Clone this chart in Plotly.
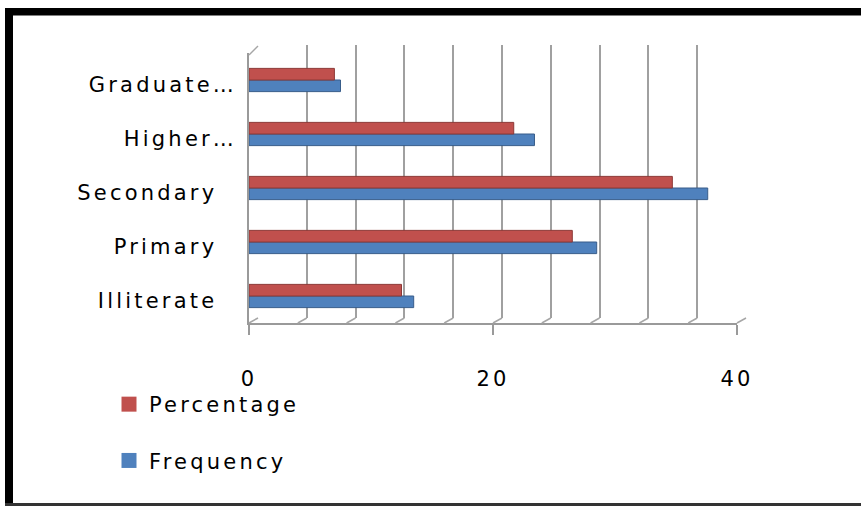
import plotly.graph_objects as go

# ---------------- data ----------------
categories = ["Illiterate", "Primary", "Secondary", "Higher…", "Graduate…"]
tick_labels = ["Illiterate\u00a0\u00a0", "Primary\u00a0\u00a0", "Secondary\u00a0\u00a0", "Higher…", "Graduate…"]
percentage = [12.5, 26.5, 34.7, 21.7, 7.0]
frequency = [13.5, 28.5, 37.6, 23.4, 7.5]
x_tick_vals = [0, 20, 40]
grid_step = 4
x_max = 40

RED = "#C0504D"
BLUE = "#4F81BD"
FONT = "DejaVu Sans"

# ---------------- geometry helpers (pixels -> paper) ----------------
FW, FH = 861, 506
L, R, T, B = 249, 750, 45, 324
PW, PH = R - L, B - T


def px(x):
    return (x - L) / PW


def py(y):
    return (B - y) / PH


fig = go.Figure()

# back wall (grid) subplot: x / y
fig.add_trace(go.Scatter(x=[None], y=[None], xaxis="x", yaxis="y", showlegend=False, hoverinfo="skip"))

# legend entries (Percentage listed first)
fig.add_trace(go.Scatter(x=[None], y=[None], xaxis="x", yaxis="y", mode="markers", name="Percentage",
                         legendgroup="p", hoverinfo="skip",
                         marker=dict(symbol="square", size=15, color=RED)))
fig.add_trace(go.Scatter(x=[None], y=[None], xaxis="x", yaxis="y", mode="markers", name="Frequency",
                         legendgroup="f", hoverinfo="skip",
                         marker=dict(symbol="square", size=15, color=BLUE)))

# bars on front subplot x2 / y2 (Frequency first -> lower bar in each group)
fig.add_trace(go.Bar(y=categories, x=frequency, orientation="h", name="Frequency",
                     xaxis="x2", yaxis="y2", showlegend=False, legendgroup="f",
                     marker=dict(color=BLUE, line=dict(color="#385D8A", width=1))))
fig.add_trace(go.Bar(y=categories, x=percentage, orientation="h", name="Percentage",
                     xaxis="x2", yaxis="y2", showlegend=False, legendgroup="p",
                     marker=dict(color=RED, line=dict(color="#8C3836", width=1))))

# decorative 3D frame pieces
shapes = []
scale = (737 - 249) / x_max
for v in range(0, x_max + 1, grid_step):
    fx = 249 + v * scale
    shapes.append(dict(type="line", xref="paper", yref="paper",
                       x0=px(fx), y0=py(323), x1=px(fx + 9), y1=py(318),
                       line=dict(color="#A6A6A6", width=1.5)))
shapes.append(dict(type="line", xref="paper", yref="paper",
                   x0=px(249), y0=py(55), x1=px(258), y1=py(46),
                   line=dict(color="#A6A6A6", width=1.5)))
# outer frame
shapes.append(dict(type="rect", xref="paper", yref="paper",
                   x0=px(5), x1=px(861), y0=py(15.5), y1=py(8),
                   fillcolor="black", line=dict(width=0)))
shapes.append(dict(type="rect", xref="paper", yref="paper",
                   x0=px(5), x1=px(13), y0=py(506), y1=py(8),
                   fillcolor="black", line=dict(width=0)))
shapes.append(dict(type="line", xref="paper", yref="paper",
                   x0=px(5), x1=px(861), y0=py(504.5), y1=py(504.5),
                   line=dict(color="#333333", width=3)))

tick_font = dict(family=FONT, size=21, color="#000000")

fig.update_layout(
    width=FW, height=FH,
    margin=dict(l=L, r=FW - R, t=T, b=FH - B, pad=0),
    paper_bgcolor="white",
    plot_bgcolor="rgba(0,0,0,0)",
    barmode="group",
    bargap=0.57,
    bargroupgap=0,
    showlegend=True,
    legend=dict(x=px(109), y=py(384), xanchor="left", yanchor="top",
                traceorder="grouped", tracegroupgap=26,
                font=dict(family=FONT, size=21, color="#000000"),
                bgcolor="rgba(0,0,0,0)", itemclick=False, itemdoubleclick=False),
    xaxis=dict(domain=[px(258), px(746)], range=[0, x_max], dtick=grid_step, tick0=0,
               showgrid=True, gridcolor="#A0A0A0", gridwidth=1.6,
               showticklabels=False, ticks="", showline=False, zeroline=False,
               anchor="y", fixedrange=True),
    yaxis=dict(domain=[py(318), py(45)], range=[0, 1], showgrid=False,
               showticklabels=False, ticks="", showline=False, zeroline=False,
               anchor="x", fixedrange=True),
    xaxis2=dict(domain=[0, px(737)], range=[0, x_max], tickvals=x_tick_vals,
                showgrid=False, zeroline=False, showline=True, linecolor="#9A9A9A", linewidth=1.5,
                ticks="outside", ticklen=10, tickcolor="#9A9A9A", tickwidth=1.5,
                tickfont=tick_font, ticklabelstandoff=26,
                anchor="y2", fixedrange=True),
    yaxis2=dict(domain=[py(323), py(53)], type="category",
                tickvals=categories, ticktext=tick_labels,
                showgrid=False, zeroline=False, showline=True, linecolor="#9A9A9A", linewidth=1.5,
                ticks="", tickfont=tick_font, ticklabelstandoff=6, ticklabelshift=5,
                anchor="x2", fixedrange=True),
    shapes=shapes,
)

post = """
var gd = document.getElementById('{plot_id}');
function ls(){
  gd.querySelectorAll('g.xaxislayer-above text, g.yaxislayer-above text, text.legendtext').forEach(function(e){
    e.style.letterSpacing = '3.2px';
  });
  gd.querySelectorAll('g.legend [clip-path]').forEach(function(e){
    e.removeAttribute('clip-path');
  });
}
ls();
if (gd.on) { gd.on('plotly_afterplot', ls); }
"""

fig.write_html("out.html", config={"displayModeBar": False}, post_script=post)
